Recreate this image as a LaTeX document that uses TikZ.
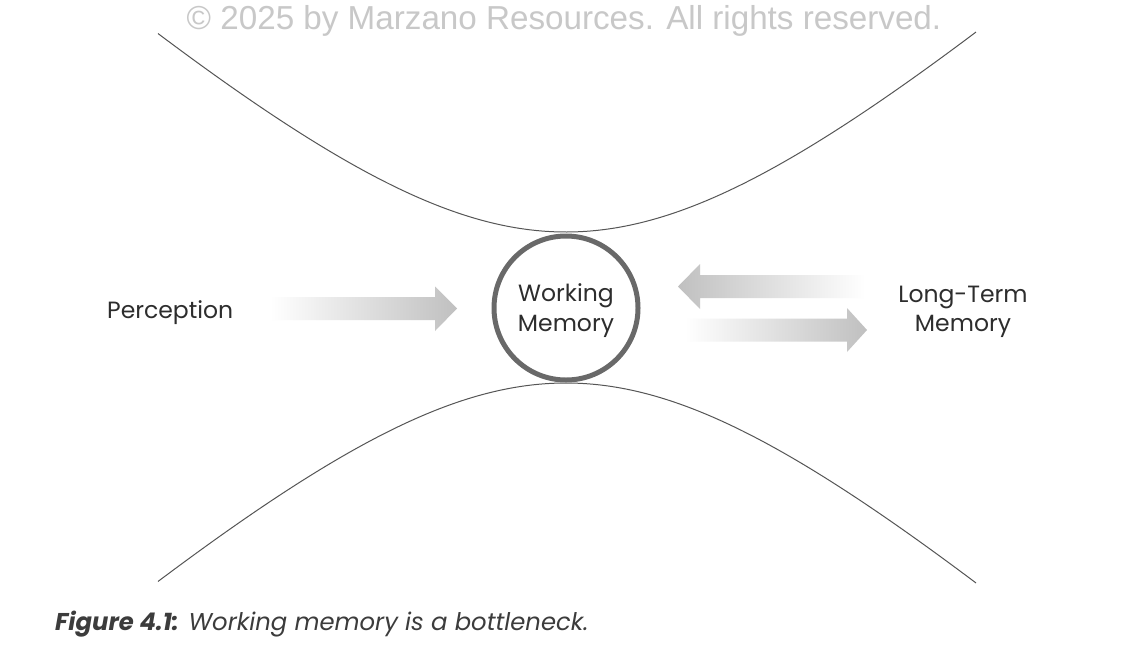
\documentclass[tikz,border=0pt]{standalone}
\usepackage{fontspec}
\setmainfont{Poppins}
\newfontfamily\wmfont{Liberation Sans}
\definecolor{txtgray}{RGB}{45,45,45}
\definecolor{capgray}{RGB}{60,60,60}
\definecolor{circgray}{RGB}{105,105,105}
\definecolor{curvegray}{RGB}{85,85,85}
\definecolor{arrgray}{RGB}{192,192,192}
\definecolor{wmgray}{RGB}{200,200,200}
\tikzset{
  lbl/.style={text=txtgray, font=\fontsize{23.5}{29.5}\selectfont, align=center, inner sep=0pt},
  curve/.style={draw=curvegray, line width=1pt},
  fatarrow/.style={draw=none},
}
\begin{document}
\begin{tikzpicture}[x=1pt,y=-1pt]
\useasboundingbox[fill=white] (0,0) rectangle (1131,659);
% watermark
\node[anchor=base, text=wmgray, font=\wmfont\fontsize{33.2}{40}\selectfont, inner sep=0pt] (wm) at (564,29) {\textcopyright{} 2025 by Marzano Resources. All rights reserved.};
% bottleneck curves
\draw[curve] plot[domain=158:976, samples=120, smooth] (\x, {467 - 10*sqrt(552.25 + 0.797*(\x/10-56.6)^2)});
\draw[curve] plot[domain=158:976, samples=120, smooth] (\x, {148 + 10*sqrt(552.25 + 0.797*(\x/10-56.6)^2)});
% working memory circle
\node[circle, draw=circgray, line width=5pt, minimum size=144pt, inner sep=0pt] (circ) at (566,308) {};
\node[lbl] (work) at (566,310.5) {Working\\Memory};
% labels
\node[lbl, anchor=base west] (perc) at (107,318) {Perception};
\node[lbl] (ltm) at (963,312) {Long-Term\\Memory};
% arrows
\shade[fatarrow, left color=white, right color=arrgray] (270,297) -- (435,297) -- (435,286.5) -- (457,308.5) -- (435,331) -- (435,320) -- (270,320) -- cycle;
\shade[fatarrow, left color=arrgray, right color=white] (865,275) -- (700,275) -- (700,264) -- (678,286.5) -- (700,309) -- (700,298) -- (865,298) -- cycle;
\shade[fatarrow, left color=white, right color=arrgray] (685,318.5) -- (847,318.5) -- (847,308) -- (867,330) -- (847,352) -- (847,341.5) -- (685,341.5) -- cycle;
% caption
\node[anchor=base west, text=capgray, font=\fontsize{24.3}{28}\selectfont, inner sep=0pt] (cap) at (55,630) {\bfseries\itshape Figure 4.1:\mdseries{} Working memory is a bottleneck.};
\end{tikzpicture}
\end{document}
